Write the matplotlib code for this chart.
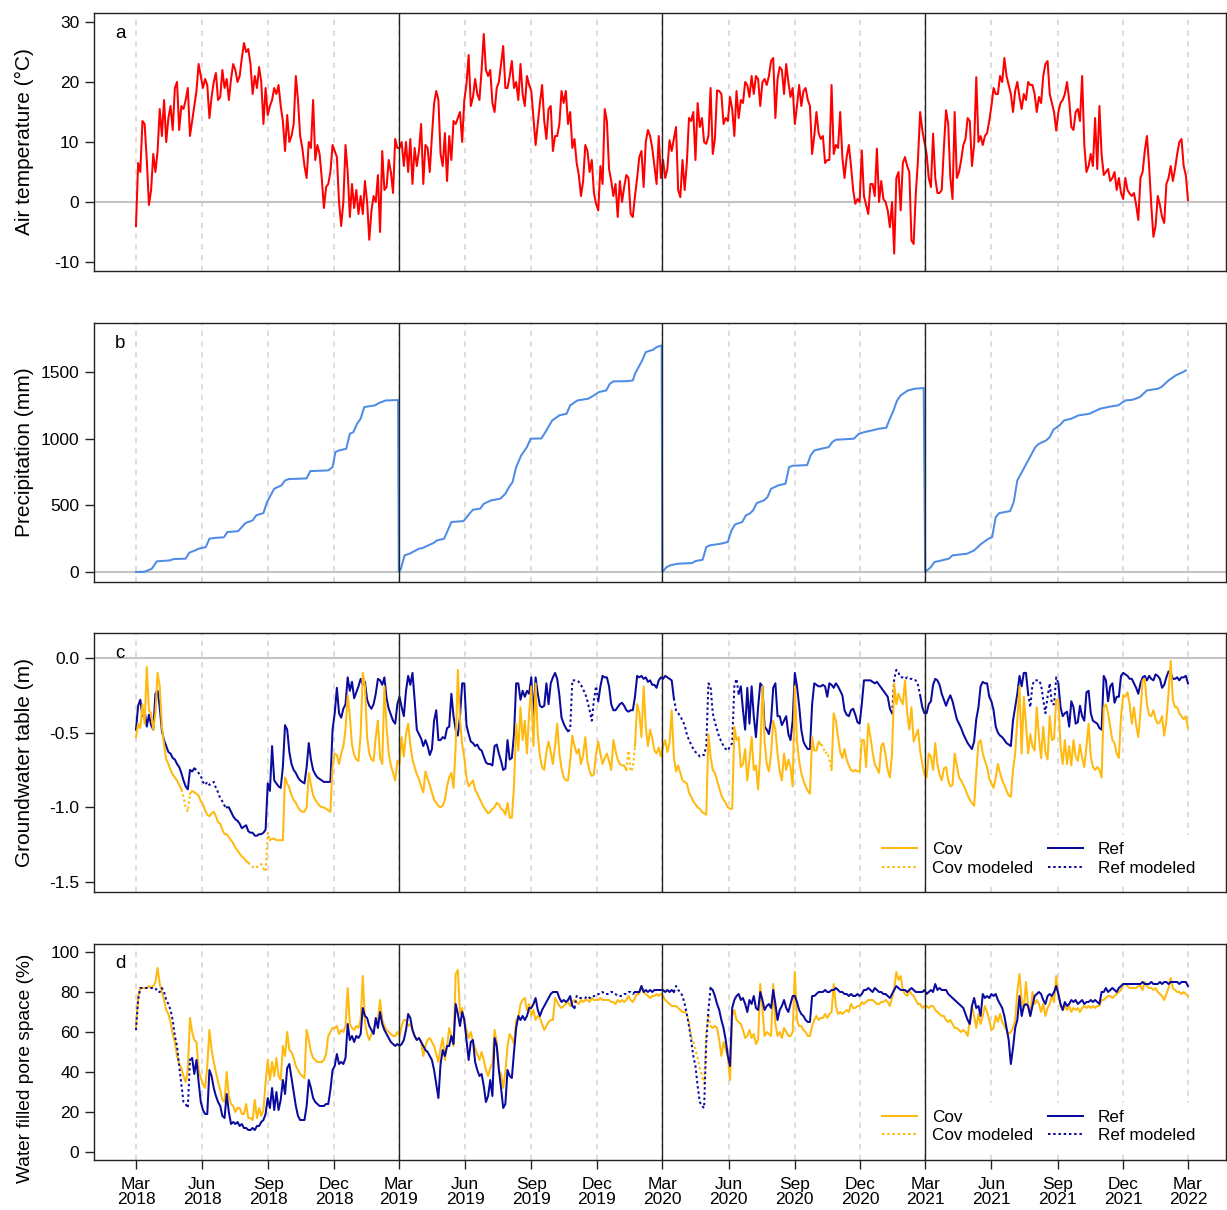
import numpy as np
import pandas as pd
import matplotlib
matplotlib.use("Agg")
import matplotlib.pyplot as plt
from matplotlib.lines import Line2D

plt.rcParams['font.family'] = ['Liberation Sans', 'DejaVu Sans']
plt.rcParams['axes.unicode_minus'] = False

# ---------------- data (3-day sampling from 2018-03-01 to 2022-03-01) ----------------
temp_y1 = [-4, 6.5, 5, 13.5, 13, 7, -0.5, 2, 8, 5,
           8.5, 15.5, 11, 17, 10, 14, 16, 12, 19, 20,
           12, 16, 15.5, 17, 19, 11, 13.5, 16, 18.5, 23,
           21, 19, 20.5, 19.5, 14, 17.5, 20, 21.5, 17, 17.5,
           22, 19, 20.5, 17, 20.5, 23, 22, 20, 21, 24,
           26.5, 25, 25.5, 23, 18, 21, 19, 22.5, 20, 13,
           19, 14.5, 16, 17, 19, 18, 19.5, 16, 13.5, 8.5,
           14.5, 10, 11, 13, 21, 17, 11, 9, 6, 4,
           10, 9, 17, 7, 9.5, 8, 4, -1, 2.5, 3,
           5, 9.5, 8.5, 7.5, 0, -4, 0, 9.5, 5, -2.5,
           3, -1, 2, -2, 1, -2, 3.5, 0, -6.3, -1.5,
           1, 0, 4.5, -5, 8.5, 2, 2.5, 7, 5, 1.5,
           10.5, 9]
temp_y2 = [9, 10, 6, 10, 5, 10.5, 3, 9, 6, 8.5,
           13, 3, 9.5, 9, 5, 11, 16.4, 18.5, 17, 8,
           6, 11.5, 3.5, 11, 7, 13.5, 13, 14, 15, 10,
           17, 19.7, 24.5, 16, 17.5, 20.5, 18, 17, 22, 28,
           22, 21, 22, 16.5, 15, 19, 20, 23, 26, 19,
           19, 21, 23.5, 19, 20, 17, 23, 18, 16, 21,
           19.5, 18.5, 14, 9.5, 13, 16.5, 19.5, 13.5, 10.5, 15.5,
           16, 8.5, 11, 11, 13, 18.5, 16.5, 18.5, 13, 15,
           9, 10.5, 6.5, 4.5, 1, 3.5, 9.5, 8.5, 5, 7,
           1.5, -0.3, -1.4, 6, 3, 15.5, 13.5, 5.5, 3.5, 1,
           3, -2.5, 3.5, 0, 2.5, 4.5, 4, -2, -2.5, 1,
           4, 7.5, 8.5, 2.5, 10, 12, 11, 9, 6, 3,
           11, 4]
temp_y3 = [7, 4, 5.5, 10.3, 8.5, 10.5, 12.5, 2, 0.8, 7,
           2, 6.5, 14, 13.5, 15, 7, 16.5, 12.5, 14, 10,
           9.7, 11, 19, 8, 10.5, 18.6, 18.5, 18, 13, 14,
           13.5, 17.5, 15.5, 11, 18.5, 14, 17, 16.5, 20, 19.5,
           17.5, 21, 18, 21, 20.5, 16, 20, 20.5, 19.5, 21,
           23.5, 24, 14, 20.5, 22.5, 22, 18, 23, 20, 17.5,
           19, 13, 16, 19.5, 16, 18.5, 19, 17, 16, 8,
           11, 15, 11.5, 10.5, 11, 6.5, 7, 7, 19.5, 8,
           9.5, 9, 15, 7.5, 4, 7.5, 9.5, 6, 2, -0.3,
           0.5, 0, 8.6, 1, -0.5, -2, 3, 3, 1, 8.9,
           0, 3.5, 0.5, 0, -1.4, -4.2, 0, -8.6, 4, 5,
           -1.4, 6.5, 7.5, 6, 5, -6.4, -7, 1.4, 7, 15,
           12, 10]
temp_y4 = [8, 4, 2.5, 11.4, 4, 1.5, 1.5, 2, 9, 15.3,
           13, 4, 0.5, 15, 4, 5, 7, 9.5, 10.5, 14,
           13.5, 6, 9.5, 20.8, 10, 11, 9.5, 11, 11.5, 13.5,
           16, 19, 18, 18, 21, 20, 24, 21, 19.5, 18,
           15, 18.5, 20, 17.5, 15.5, 18, 17, 20, 19.5, 19.5,
           18, 15, 17.5, 16.5, 21, 23, 23.5, 18, 16.5, 15,
           11.9, 15, 16.5, 17, 18, 20, 17, 12.5, 12, 15,
           15.5, 13.5, 21, 9.5, 5, 6, 8, 6, 14, 5.5,
           16, 8, 4.5, 5, 5.5, 3.5, 4, 5, 2, 4,
           1.5, 0.5, 4, 2, 1.4, 1, 1.5, -0.5, -3, 4,
           5, 8.5, 11, 6, -0.5, -5.8, -4, 1, -0.5, -2.5,
           -3.5, 3, 4, 6, 3.5, 5.5, 8, 10, 10.5, 6,
           4.5, 0.3]

# cumulative precipitation per hydrological year: (days since 1 March, mm)
precip_year_starts = ["2018-03-01", "2019-03-01", "2020-03-01", "2021-03-01"]
precip_days_y1 = [0, 12, 22, 29, 47, 52, 69, 74, 82, 87, 97, 102, 112, 122, 127, 137, 142, 147, 152, 162,
                  167, 177, 182, 187, 192, 202, 207, 212, 237, 242, 267, 273, 277, 282, 292, 297, 302, 307,
                  312, 317, 322, 332, 337, 347, 364]
precip_mm_y1 = [0, 2, 25, 80, 87, 97, 100, 145, 162, 175, 187, 250, 257, 260, 300, 304, 307, 337, 367, 387,
                425, 442, 525, 575, 625, 650, 687, 697, 702, 757, 762, 787, 900, 912, 925, 1037, 1050, 1112,
                1150, 1237, 1242, 1250, 1267, 1287, 1290]
precip_days_y2 = [0, 3, 8, 15, 28, 33, 48, 53, 63, 68, 73, 85, 90, 98, 103, 113, 118, 128, 141, 148,
                  153, 158, 163, 170, 178, 183, 198, 205, 213, 223, 233, 238, 248, 263, 271, 278, 288, 293,
                  298, 318, 325, 328, 338, 343, 353, 358, 365]
precip_mm_y2 = [0, 25, 125, 137, 175, 180, 217, 237, 250, 312, 375, 380, 382, 437, 467, 475, 512, 537, 550, 587,
                637, 675, 787, 875, 937, 1000, 1002, 1062, 1137, 1175, 1187, 1250, 1287, 1300, 1325, 1350, 1362,
                1412, 1430, 1432, 1437, 1487, 1587, 1650, 1667, 1687, 1700]
precip_days_y3 = [0, 6, 11, 21, 41, 46, 56, 61, 66, 81, 91, 96, 101, 111, 116, 121, 126, 131, 141, 146,
                  151, 156, 161, 171, 176, 181, 201, 206, 211, 221, 231, 236, 241, 266, 273, 281, 291, 301,
                  311, 316, 321, 326, 331, 341, 351, 363]
precip_mm_y3 = [0, 37, 50, 62, 67, 82, 92, 187, 200, 212, 225, 312, 357, 375, 425, 437, 462, 517, 537, 562,
                625, 637, 650, 662, 787, 797, 802, 875, 912, 925, 937, 975, 992, 1000, 1037, 1050, 1062, 1075,
                1082, 1150, 1212, 1287, 1325, 1362, 1375, 1380]
precip_days_y4 = [0, 8, 13, 23, 33, 38, 58, 68, 78, 88, 93, 98, 103, 118, 123, 128, 133, 138, 148, 153,
                  158, 168, 173, 178, 188, 193, 203, 213, 228, 238, 243, 258, 268, 278, 288, 298, 308, 323,
                  328, 338, 348, 358, 362]
precip_mm_y4 = [0, 37, 75, 87, 100, 125, 137, 162, 212, 250, 262, 412, 442, 457, 525, 687, 737, 787, 887, 937,
                962, 987, 1012, 1067, 1107, 1137, 1150, 1175, 1187, 1212, 1225, 1242, 1250, 1287, 1292, 1312,
                1362, 1375, 1387, 1437, 1475, 1500, 1512]

gw_cov_y1 = [-0.53, -0.44, -0.47, -0.31, -0.44, -0.06, -0.35, -0.37, -0.48, -0.37,
             -0.10, -0.19, -0.46, -0.58, -0.68, -0.71, -0.75, -0.78, -0.80, -0.82,
             -0.85, -0.88, -0.93, -1.00, -1.03, -0.91, -0.89, -0.90, -0.91, -0.92,
             -0.96, -0.98, -1.02, -1.05, -1.06, -1.04, -1.03, -1.06, -1.10, -1.11,
             -1.15, -1.18, -1.18, -1.20, -1.22, -1.24, -1.27, -1.29, -1.31, -1.33,
             -1.34, -1.36, -1.37, -1.39, -1.40, -1.39, -1.40, -1.39, -1.38, -1.41,
             -1.43, -1.17, -1.22, -1.21, -1.21, -1.22, -1.22, -1.22, -1.22, -0.80,
             -0.84, -0.87, -0.92, -0.95, -0.97, -1.00, -1.02, -1.03, -1.03, -1.00,
             -0.77, -0.85, -0.92, -0.95, -0.97, -0.99, -1.00, -1.00, -1.01, -1.02,
             -1.03, -0.73, -0.64, -0.65, -0.71, -0.64, -0.59, -0.48, -0.25, -0.39,
             -0.58, -0.65, -0.68, -0.69, -0.51, -0.10, -0.19, -0.53, -0.64, -0.68,
             -0.69, -0.53, -0.42, -0.67, -0.71, -0.19, -0.46, -0.64, -0.72, -0.77,
             -0.82, -0.69]
gw_cov_y2 = [-0.71, -0.53, -0.66, -0.51, -0.44, -0.58, -0.68, -0.73, -0.78, -0.81,
             -0.86, -0.90, -0.76, -0.81, -0.85, -0.90, -0.95, -0.97, -0.99, -1.00,
             -0.99, -0.95, -0.86, -0.80, -0.77, -0.87, -0.59, -0.08, -0.42, -0.58,
             -0.67, -0.80, -0.86, -0.84, -0.82, -0.88, -0.91, -0.94, -0.97, -1.00,
             -1.02, -1.04, -1.03, -1.01, -1.00, -0.97, -0.98, -1.01, -1.02, -1.05,
             -0.97, -1.07, -1.07, -0.86, -0.44, -0.62, -0.33, -0.55, -0.42, -0.64,
             -0.37, -0.19, -0.59, -0.17, -0.51, -0.66, -0.73, -0.75, -0.63, -0.56,
             -0.63, -0.71, -0.59, -0.44, -0.64, -0.74, -0.80, -0.82, -0.82, -0.69,
             -0.52, -0.59, -0.64, -0.61, -0.71, -0.65, -0.53, -0.69, -0.76, -0.79,
             -0.78, -0.64, -0.56, -0.64, -0.71, -0.67, -0.64, -0.69, -0.75, -0.55,
             -0.62, -0.68, -0.71, -0.72, -0.72, -0.75, -0.62, -0.76, -0.74, -0.59,
             -0.31, -0.37, -0.53, -0.19, -0.46, -0.59, -0.48, -0.54, -0.62, -0.64,
             -0.60, -0.66]
gw_cov_y3 = [-0.59, -0.55, -0.63, -0.57, -0.35, -0.66, -0.76, -0.72, -0.77, -0.82,
             -0.83, -0.84, -0.90, -0.93, -0.96, -0.98, -1.00, -1.01, -1.03, -1.04,
             -1.05, -0.51, -0.66, -0.75, -0.77, -0.82, -0.87, -0.92, -0.95, -0.97,
             -1.00, -1.01, -1.01, -0.46, -0.55, -0.53, -0.73, -0.71, -0.61, -0.82,
             -0.68, -0.53, -0.75, -0.72, -0.88, -0.64, -0.19, -0.56, -0.71, -0.76,
             -0.64, -0.42, -0.48, -0.64, -0.76, -0.82, -0.64, -0.75, -0.68, -0.73,
             -0.86, -0.19, -0.56, -0.69, -0.77, -0.82, -0.86, -0.89, -0.91, -0.53,
             -0.62, -0.62, -0.56, -0.58, -0.59, -0.64, -0.63, -0.68, -0.75, -0.37,
             -0.42, -0.53, -0.63, -0.67, -0.61, -0.68, -0.72, -0.75, -0.76, -0.75,
             -0.76, -0.76, -0.55, -0.55, -0.73, -0.44, -0.53, -0.63, -0.71, -0.74,
             -0.77, -0.59, -0.57, -0.65, -0.75, -0.80, -0.64, -0.17, -0.31, -0.24,
             -0.28, -0.31, -0.15, -0.37, -0.48, -0.33, -0.56, -0.52, -0.48, -0.62,
             -0.71, -0.78]
gw_cov_y4 = [-0.80, -0.64, -0.66, -0.75, -0.57, -0.71, -0.78, -0.82, -0.74, -0.73,
             -0.82, -0.86, -0.85, -0.64, -0.72, -0.80, -0.82, -0.85, -0.88, -0.92,
             -0.95, -0.97, -0.99, -0.77, -0.57, -0.55, -0.64, -0.69, -0.73, -0.81,
             -0.84, -0.87, -0.80, -0.71, -0.77, -0.82, -0.85, -0.89, -0.92, -0.93,
             -0.75, -0.64, -0.42, -0.19, -0.64, -0.26, -0.44, -0.64, -0.51, -0.59,
             -0.62, -0.33, -0.53, -0.67, -0.46, -0.63, -0.68, -0.39, -0.55, -0.54,
             -0.28, -0.28, -0.59, -0.71, -0.55, -0.71, -0.59, -0.72, -0.55, -0.66,
             -0.69, -0.58, -0.67, -0.73, -0.59, -0.44, -0.66, -0.73, -0.75, -0.73,
             -0.75, -0.80, -0.33, -0.31, -0.37, -0.46, -0.55, -0.57, -0.64, -0.67,
             -0.39, -0.25, -0.26, -0.23, -0.31, -0.44, -0.33, -0.45, -0.53, -0.36,
             -0.15, -0.14, -0.31, -0.38, -0.39, -0.35, -0.41, -0.44, -0.43, -0.39,
             -0.52, -0.42, -0.23, -0.02, -0.28, -0.33, -0.33, -0.37, -0.39, -0.41,
             -0.39, -0.47]

gw_ref_y1 = [-0.48, -0.32, -0.28, -0.39, -0.35, -0.46, -0.38, -0.45, -0.48, -0.24,
             -0.22, -0.33, -0.49, -0.55, -0.59, -0.63, -0.64, -0.67, -0.68, -0.71,
             -0.73, -0.77, -0.82, -0.86, -0.88, -0.75, -0.76, -0.74, -0.75, -0.77,
             -0.79, -0.83, -0.85, -0.83, -0.85, -0.84, -0.83, -0.87, -0.90, -0.94,
             -0.96, -0.99, -1.00, -1.00, -1.03, -1.06, -1.08, -1.09, -1.11, -1.14,
             -1.13, -1.12, -1.16, -1.17, -1.17, -1.19, -1.19, -1.18, -1.18, -1.17,
             -1.15, -0.84, -0.89, -0.59, -0.82, -0.84, -0.86, -0.87, -0.73, -0.45,
             -0.48, -0.63, -0.71, -0.75, -0.77, -0.80, -0.82, -0.83, -0.84, -0.73,
             -0.57, -0.68, -0.75, -0.78, -0.80, -0.81, -0.82, -0.83, -0.83, -0.83,
             -0.83, -0.48, -0.37, -0.20, -0.37, -0.40, -0.34, -0.31, -0.13, -0.22,
             -0.16, -0.27, -0.23, -0.19, -0.14, -0.18, -0.16, -0.28, -0.32, -0.34,
             -0.31, -0.24, -0.14, -0.15, -0.18, -0.13, -0.27, -0.34, -0.38, -0.42,
             -0.44, -0.31]
gw_ref_y2 = [-0.26, -0.33, -0.39, -0.22, -0.12, -0.18, -0.10, -0.28, -0.48, -0.51,
             -0.54, -0.59, -0.55, -0.59, -0.65, -0.61, -0.42, -0.35, -0.55, -0.55,
             -0.53, -0.54, -0.47, -0.46, -0.24, -0.39, -0.48, -0.52, -0.39, -0.17,
             -0.17, -0.45, -0.51, -0.56, -0.57, -0.59, -0.58, -0.61, -0.62, -0.66,
             -0.70, -0.71, -0.71, -0.72, -0.59, -0.58, -0.64, -0.69, -0.75, -0.74,
             -0.55, -0.68, -0.67, -0.51, -0.17, -0.17, -0.28, -0.22, -0.26, -0.22,
             -0.24, -0.13, -0.39, -0.13, -0.24, -0.32, -0.33, -0.32, -0.17, -0.31,
             -0.17, -0.13, -0.10, -0.14, -0.25, -0.40, -0.44, -0.47, -0.49, -0.48,
             -0.15, -0.15, -0.15, -0.16, -0.18, -0.21, -0.24, -0.29, -0.35, -0.42,
             -0.28, -0.19, -0.29, -0.19, -0.12, -0.13, -0.13, -0.19, -0.31, -0.35,
             -0.35, -0.33, -0.31, -0.30, -0.32, -0.35, -0.36, -0.35, -0.35, -0.26,
             -0.12, -0.13, -0.12, -0.14, -0.13, -0.16, -0.15, -0.18, -0.18, -0.20,
             -0.15, -0.13]
gw_ref_y3 = [-0.14, -0.12, -0.13, -0.14, -0.15, -0.27, -0.35, -0.37, -0.39, -0.42,
             -0.45, -0.51, -0.55, -0.58, -0.61, -0.63, -0.64, -0.66, -0.65, -0.65,
             -0.59, -0.17, -0.19, -0.37, -0.43, -0.48, -0.53, -0.56, -0.59, -0.61,
             -0.62, -0.59, -0.57, -0.19, -0.14, -0.24, -0.19, -0.35, -0.48, -0.20,
             -0.44, -0.19, -0.39, -0.53, -0.33, -0.17, -0.19, -0.46, -0.48, -0.51,
             -0.42, -0.20, -0.17, -0.39, -0.39, -0.45, -0.42, -0.39, -0.51, -0.55,
             -0.42, -0.10, -0.19, -0.32, -0.48, -0.56, -0.59, -0.61, -0.61, -0.31,
             -0.17, -0.18, -0.19, -0.19, -0.18, -0.19, -0.26, -0.17, -0.18, -0.20,
             -0.17, -0.19, -0.22, -0.25, -0.35, -0.38, -0.39, -0.35, -0.34, -0.38,
             -0.43, -0.44, -0.31, -0.15, -0.15, -0.15, -0.15, -0.16, -0.17, -0.16,
             -0.18, -0.20, -0.22, -0.24, -0.26, -0.34, -0.37, -0.14, -0.08, -0.10,
             -0.13, -0.13, -0.14, -0.13, -0.14, -0.14, -0.15, -0.15, -0.18, -0.25,
             -0.33, -0.37]
gw_ref_y4 = [-0.37, -0.31, -0.29, -0.18, -0.14, -0.15, -0.18, -0.24, -0.28, -0.32,
             -0.28, -0.25, -0.29, -0.35, -0.41, -0.44, -0.47, -0.51, -0.54, -0.57,
             -0.59, -0.61, -0.56, -0.41, -0.33, -0.19, -0.16, -0.17, -0.17, -0.26,
             -0.29, -0.35, -0.46, -0.50, -0.52, -0.53, -0.55, -0.57, -0.58, -0.59,
             -0.42, -0.33, -0.24, -0.12, -0.19, -0.10, -0.10, -0.24, -0.33, -0.18,
             -0.15, -0.15, -0.15, -0.18, -0.28, -0.37, -0.26, -0.17, -0.31, -0.31,
             -0.13, -0.17, -0.33, -0.39, -0.37, -0.36, -0.46, -0.29, -0.33, -0.44,
             -0.43, -0.32, -0.39, -0.42, -0.23, -0.22, -0.37, -0.42, -0.43, -0.44,
             -0.47, -0.48, -0.12, -0.15, -0.29, -0.19, -0.17, -0.30, -0.26, -0.26,
             -0.12, -0.10, -0.11, -0.12, -0.14, -0.14, -0.17, -0.20, -0.24, -0.17,
             -0.13, -0.12, -0.15, -0.12, -0.14, -0.15, -0.11, -0.12, -0.14, -0.20,
             -0.18, -0.13, -0.09, -0.10, -0.14, -0.14, -0.13, -0.15, -0.13, -0.13,
             -0.12, -0.17]

wfps_cov_y1 = [63, 78, 82, 82, 82, 82, 83, 82, 83, 85,
               92, 84, 80, 76, 71, 69, 65, 59, 55, 48,
               44, 42, 38, 35, 41, 67, 60, 56, 55, 41,
               37, 34, 32, 43, 61, 51, 45, 40, 35, 31,
               26, 25, 40, 28, 24, 23, 20, 22, 22, 19,
               19, 24, 17, 17, 16, 26, 17, 22, 18, 21,
               35, 46, 36, 45, 38, 47, 38, 36, 53, 48,
               60, 51, 50, 47, 43, 41, 39, 38, 37, 61,
               56, 50, 47, 46, 45, 45, 45, 46, 49, 58,
               60, 62, 62, 63, 59, 61, 60, 63, 82, 64,
               62, 61, 63, 62, 66, 88, 65, 59, 56, 59,
               61, 65, 66, 76, 66, 63, 61, 60, 59, 58,
               58, 60]
wfps_cov_y2 = [58, 63, 66, 66, 63, 64, 61, 58, 56, 57,
               55, 48, 53, 56, 57, 55, 53, 49, 45, 52,
               57, 46, 53, 62, 58, 53, 89, 91, 69, 72,
               65, 61, 57, 60, 55, 52, 49, 46, 50, 46,
               41, 38, 42, 44, 61, 55, 41, 39, 32, 40,
               53, 59, 57, 54, 66, 67, 74, 76, 77, 71,
               74, 68, 71, 66, 68, 67, 64, 61, 63, 65,
               66, 66, 77, 75, 73, 72, 73, 74, 75, 73,
               75, 76, 75, 74, 76, 75, 76, 76, 75, 77,
               76, 76, 76, 77, 76, 76, 76, 76, 75, 75,
               74, 76, 75, 76, 75, 76, 78, 76, 75, 77,
               79, 79, 83, 80, 79, 78, 77, 78, 78, 79,
               78, 79]
wfps_cov_y3 = [78, 76, 75, 74, 73, 73, 73, 72, 71, 70,
               70, 69, 65, 58, 55, 51, 47, 42, 38, 34,
               60, 69, 63, 62, 63, 62, 56, 48, 55, 51,
               48, 36, 68, 71, 66, 65, 64, 61, 57, 58,
               61, 57, 59, 54, 56, 84, 71, 58, 60, 59,
               58, 84, 64, 58, 60, 57, 62, 60, 58, 58,
               60, 90, 66, 63, 63, 61, 60, 58, 58, 63,
               66, 68, 66, 67, 67, 69, 67, 69, 70, 84,
               73, 69, 70, 69, 70, 71, 70, 74, 72, 72,
               73, 73, 75, 74, 75, 76, 76, 76, 75, 74,
               74, 75, 75, 76, 75, 73, 77, 82, 90, 86,
               88, 81, 79, 78, 81, 79, 78, 76, 74, 74,
               72, 73]
wfps_cov_y4 = [73, 72, 73, 73, 71, 70, 69, 68, 68, 66,
               65, 66, 64, 62, 62, 61, 60, 61, 60, 58,
               66, 73, 68, 62, 69, 64, 68, 73, 70, 66,
               61, 62, 68, 65, 69, 65, 63, 61, 59, 60,
               62, 66, 80, 89, 76, 72, 85, 73, 68, 80,
               74, 76, 74, 70, 74, 68, 72, 74, 78, 75,
               88, 78, 73, 71, 73, 71, 73, 70, 72, 71,
               72, 70, 72, 73, 72, 73, 72, 73, 72, 73,
               73, 76, 76, 77, 78, 78, 77, 78, 79, 80,
               81, 84, 84, 83, 82, 82, 82, 82, 83, 83,
               81, 85, 83, 82, 82, 81, 82, 80, 79, 78,
               76, 79, 82, 87, 82, 81, 80, 80, 79, 80,
               79, 78]

wfps_ref_y1 = [61, 76, 82, 82, 82, 82, 82, 82, 82, 82,
               80, 80, 82, 80, 76, 74, 71, 66, 58, 53,
               43, 34, 25, 24, 22, 46, 47, 39, 46, 35,
               25, 21, 19, 19, 41, 38, 32, 28, 25, 23,
               18, 17, 29, 20, 14, 15, 14, 15, 13, 14,
               12, 12, 11, 11, 12, 11, 13, 13, 15, 16,
               19, 27, 22, 32, 21, 30, 21, 26, 36, 29,
               42, 44, 37, 30, 23, 18, 16, 16, 16, 23,
               36, 32, 27, 25, 24, 23, 23, 23, 24, 24,
               31, 41, 43, 49, 44, 45, 44, 47, 64, 56,
               58, 55, 58, 57, 59, 72, 68, 67, 63, 61,
               59, 67, 62, 70, 64, 61, 59, 57, 55, 54,
               53, 54]
wfps_ref_y2 = [53, 54, 56, 61, 69, 67, 61, 58, 56, 57,
               55, 53, 51, 50, 48, 46, 41, 34, 27, 44,
               51, 48, 53, 53, 58, 54, 74, 69, 63, 70,
               66, 56, 46, 55, 56, 45, 41, 38, 39, 33,
               25, 28, 36, 28, 57, 53, 41, 32, 22, 24,
               41, 38, 37, 50, 62, 68, 66, 68, 66, 68,
               72, 72, 74, 77, 71, 68, 71, 73, 75, 77,
               79, 80, 80, 80, 77, 75, 76, 75, 76, 78,
               73, 72, 78, 77, 77, 77, 77, 78, 77, 77,
               78, 78, 79, 79, 80, 79, 79, 79, 80, 80,
               79, 78, 78, 78, 79, 79, 80, 80, 79, 80,
               80, 80, 83, 80, 81, 80, 81, 80, 81, 81,
               81, 81]
wfps_ref_y3 = [81, 80, 81, 80, 81, 80, 83, 81, 80, 78,
               74, 69, 63, 56, 48, 43, 33, 25, 23, 22,
               55, 71, 82, 81, 78, 74, 71, 66, 62, 56,
               48, 43, 72, 76, 78, 79, 76, 77, 74, 70,
               76, 74, 78, 72, 71, 80, 76, 71, 73, 74,
               72, 81, 74, 66, 71, 73, 76, 72, 70, 74,
               78, 78, 75, 71, 69, 68, 66, 65, 65, 78,
               78, 79, 80, 80, 80, 81, 80, 80, 81, 81,
               82, 81, 80, 80, 79, 79, 78, 79, 78, 78,
               79, 78, 79, 81, 81, 82, 81, 80, 82, 81,
               80, 80, 79, 79, 78, 77, 79, 81, 83, 82,
               81, 81, 81, 80, 81, 82, 81, 80, 80, 80,
               80, 81]
wfps_ref_y4 = [79, 80, 81, 80, 84, 81, 82, 81, 81, 81,
               79, 78, 77, 76, 75, 74, 73, 72, 69, 66,
               64, 73, 77, 72, 73, 68, 79, 77, 78, 77,
               79, 78, 79, 76, 74, 72, 68, 62, 56, 44,
               52, 62, 66, 78, 68, 73, 74, 73, 68, 73,
               78, 79, 80, 79, 76, 74, 78, 79, 78, 80,
               83, 79, 74, 71, 75, 73, 74, 76, 75, 76,
               74, 75, 76, 74, 75, 75, 76, 75, 76, 75,
               74, 80, 80, 82, 80, 81, 82, 81, 80, 82,
               83, 84, 84, 84, 84, 84, 84, 84, 84, 84,
               85, 84, 84, 84, 85, 84, 84, 84, 85, 84,
               85, 85, 84, 85, 85, 85, 85, 84, 85, 85,
               85, 83]

# gap-filled (modeled) periods
gw_cov_modeled = [("2018-05-05", "2018-05-14"), ("2018-08-06", "2018-09-01"),
                  ("2020-01-13", "2020-01-21"), ("2020-10-09", "2020-10-20")]
gw_ref_modeled = [("2018-05-23", "2018-07-03"), ("2019-10-24", "2019-12-01"),
                  ("2020-03-19", "2020-06-13"), ("2021-01-16", "2021-02-20"),
                  ("2021-07-24", "2021-08-31")]
wfps_cov_modeled = [("2020-04-03", "2020-05-05")]
wfps_ref_modeled = [("2018-03-01", "2018-05-13"), ("2019-11-02", "2020-01-21"),
                    ("2020-03-19", "2020-05-05")]

year_bounds = ["2019-03-01", "2020-03-01", "2021-03-01"]

# ---------------- build series ----------------
dates = pd.date_range("2018-03-01", "2022-03-01", freq="3D")
temp = np.array(temp_y1 + temp_y2 + temp_y3 + temp_y4, float)
gw_cov = np.array(gw_cov_y1 + gw_cov_y2 + gw_cov_y3 + gw_cov_y4, float)
gw_ref = np.array(gw_ref_y1 + gw_ref_y2 + gw_ref_y3 + gw_ref_y4, float)
wfps_cov = np.array(wfps_cov_y1 + wfps_cov_y2 + wfps_cov_y3 + wfps_cov_y4, float)
wfps_ref = np.array(wfps_ref_y1 + wfps_ref_y2 + wfps_ref_y3 + wfps_ref_y4, float)

p_dates, p_vals = [], []
for start, dd, mm in zip(precip_year_starts,
                         [precip_days_y1, precip_days_y2, precip_days_y3, precip_days_y4],
                         [precip_mm_y1, precip_mm_y2, precip_mm_y3, precip_mm_y4]):
    s = pd.Timestamp(start)
    p_dates += [s + pd.Timedelta(days=d) for d in dd]
    p_vals += mm
p_dates = pd.DatetimeIndex(p_dates)


def modeled_mask(ranges):
    m = np.zeros(len(dates), bool)
    for a, b in ranges:
        m |= (dates >= pd.Timestamp(a)) & (dates <= pd.Timestamp(b))
    return m


def plot_split(ax, y, ranges, color, lw, z):
    mod = modeled_mask(ranges)
    near = mod.copy()
    near[1:] |= mod[:-1]
    near[:-1] |= mod[1:]
    solid = np.where(mod, np.nan, y)
    dotted = np.where(near, y, np.nan)
    ax.plot(dates, solid, color=color, lw=lw, zorder=z)
    ax.plot(dates, dotted, color=color, lw=lw, ls=(0, (1.2, 1.4)), zorder=z)


# ---------------- figure ----------------
W, H = 1227, 1210
fig = plt.figure(figsize=(W / 100, H / 100), dpi=100)
left = 94 / W
width = (1226 - 94) / W
boxes = [(13, 271), (323, 582), (633, 892), (944, 1160)]
axes = []
for top, bot in boxes:
    axes.append(fig.add_axes([left, 1 - bot / H, width, (bot - top) / H]))

xmin = pd.Timestamp("2018-03-01") - pd.Timedelta(days=58.3)
xmax = pd.Timestamp("2022-03-01") + pd.Timedelta(days=52.8)
quarters = pd.date_range("2018-03-01", "2022-03-01", freq="3MS")

RED = "#FF0000"
PBLUE = "#4F8CE6"
COV = "#FFB90F"
REF = "#0A0A9E"
LW = 1.45
TICK_FS = 12.5
LAB_FS = 15

ax_a, ax_b, ax_c, ax_d = axes

for ax in axes:
    ax.set_xlim(xmin, xmax)
    for q in quarters:
        ax.axvline(q, color="#D3D3D3", lw=1.1, ls=(0, (3.5, 3.5)), zorder=1)
    for yb in year_bounds:
        ax.axvline(pd.Timestamp(yb), color="#222222", lw=1.0, zorder=6)
    for sp in ax.spines.values():
        sp.set_linewidth(1.0)
        sp.set_color("#222222")
    ax.tick_params(axis="y", direction="out", length=6.5, width=1.0, pad=4,
                   labelsize=TICK_FS, colors="#222222", labelcolor="black")
    ax.tick_params(axis="x", bottom=False, labelbottom=False)

# panel a
ax_a.axhline(0, color="#C4C4C4", lw=1.5, zorder=1.5)
ax_a.plot(dates, temp, color=RED, lw=LW, zorder=3)
ax_a.set_ylim(-11.5, 31.5)
ax_a.set_yticks([-10, 0, 10, 20, 30])
ax_a.set_ylabel("Air temperature (°C)", fontsize=LAB_FS)

# panel b
ax_b.axhline(0, color="#C4C4C4", lw=1.5, zorder=1.5)
ax_b.plot(p_dates, p_vals, color=PBLUE, lw=LW, zorder=3)
ax_b.set_ylim(-75, 1868)
ax_b.set_yticks([0, 500, 1000, 1500])
ax_b.set_ylabel("Precipitation (mm)", fontsize=LAB_FS)

# panel c
ax_c.axhline(0, color="#C4C4C4", lw=1.5, zorder=1.5)
plot_split(ax_c, gw_ref, gw_ref_modeled, REF, LW, 3)
plot_split(ax_c, gw_cov, gw_cov_modeled, COV, LW, 3.1)
ax_c.set_ylim(-1.567, 0.167)
ax_c.set_yticks([-1.5, -1.0, -0.5, 0.0])
ax_c.set_yticklabels(["-1.5", "-1.0", "-0.5", "0.0"])
ax_c.set_ylabel("Groundwater table (m)", fontsize=LAB_FS)

# panel d
plot_split(ax_d, wfps_cov, wfps_cov_modeled, COV, LW, 3)
plot_split(ax_d, wfps_ref, wfps_ref_modeled, REF, LW, 3.1)
ax_d.set_ylim(-4, 104)
ax_d.set_yticks([0, 20, 40, 60, 80, 100])
ax_d.set_ylabel("Water filled pore space (%)", fontsize=13.8)
ax_d.tick_params(axis="x", bottom=True, labelbottom=True, direction="out", length=6.5,
                 width=1.0, pad=5.5, labelsize=TICK_FS, colors="#222222", labelcolor="black")
ax_d.set_xticks(quarters)
ax_d.set_xticklabels([q.strftime("%b\n%Y") for q in quarters])
for lbl in ax_d.get_xticklabels():
    lbl.set_linespacing(1.02)

# label positions
ax_a.yaxis.set_label_coords(-0.053, 0.5)
ax_b.yaxis.set_label_coords(-0.053, 0.5)
ax_c.yaxis.set_label_coords(-0.053, 0.5)
ax_d.yaxis.set_label_coords(-0.053, 0.426)

for ax, letter in zip(axes, "abcd"):
    ax.text(0.023, 1 - 20 / (ax.get_position().height * H), letter, transform=ax.transAxes,
            ha="center", va="center", fontsize=13.5, zorder=7)

handles = [Line2D([], [], color=COV, lw=LW), Line2D([], [], color=COV, lw=LW, ls=(0, (1.2, 1.4))),
           Line2D([], [], color=REF, lw=LW), Line2D([], [], color=REF, lw=LW, ls=(0, (1.2, 1.4)))]
labels = ["Cov", "Cov modeled", "Ref", "Ref modeled"]
for ax, yb in [(ax_c, 0.037), (ax_d, 0.045)]:
    leg = ax.legend(handles, labels, ncol=2, loc="lower right", bbox_to_anchor=(0.979, yb),
                    fontsize=12.3, frameon=True, fancybox=False, edgecolor="white",
                    facecolor="white", framealpha=1, borderaxespad=0, handlelength=2.0,
                    handletextpad=0.9, columnspacing=0.9, labelspacing=0.2, borderpad=0.4)
    leg.set_zorder(5)

fig.savefig("out.png", dpi=100)
